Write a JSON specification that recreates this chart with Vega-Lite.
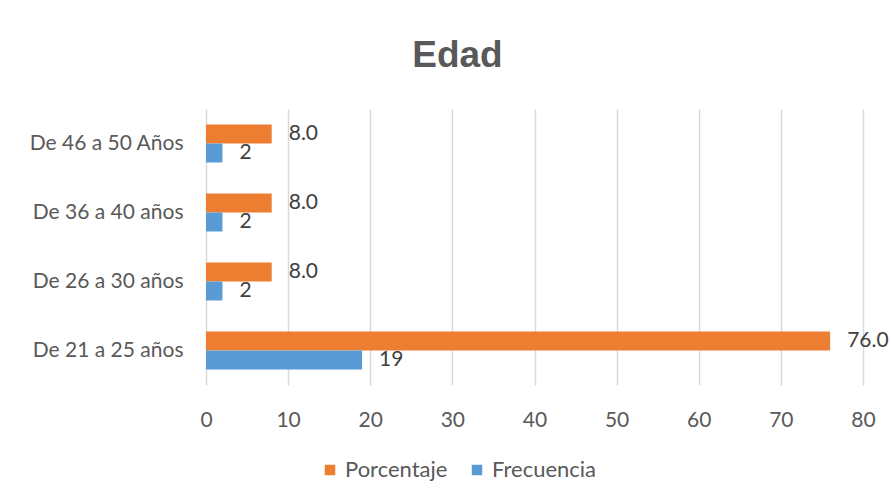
{
  "$schema": "https://vega.github.io/schema/vega-lite/v6.json",
  "autosize": "none",
  "width": 657,
  "height": 276,
  "padding": {"left": 206, "top": 109, "right": 28, "bottom": 117},
  "background": "white",
  "config": {"view": {"stroke": null}},
  "title": {
    "text": "Edad",
    "font": "Liberation Sans",
    "fontSize": 37,
    "fontWeight": "bold",
    "color": "#595959",
    "anchor": "middle",
    "dx": -77,
    "baseline": "alphabetic",
    "offset": 5
  },
  "data": {
    "values": [
      {"edad": "De 46 a 50 Años", "serie": "Porcentaje", "valor": 8.0, "etiqueta": "8.0"},
      {"edad": "De 46 a 50 Años", "serie": "Frecuencia", "valor": 2, "etiqueta": "2"},
      {"edad": "De 36 a 40 años", "serie": "Porcentaje", "valor": 8.0, "etiqueta": "8.0"},
      {"edad": "De 36 a 40 años", "serie": "Frecuencia", "valor": 2, "etiqueta": "2"},
      {"edad": "De 26 a 30 años", "serie": "Porcentaje", "valor": 8.0, "etiqueta": "8.0"},
      {"edad": "De 26 a 30 años", "serie": "Frecuencia", "valor": 2, "etiqueta": "2"},
      {"edad": "De 21 a 25 años", "serie": "Porcentaje", "valor": 76.0, "etiqueta": "76.0"},
      {"edad": "De 21 a 25 años", "serie": "Frecuencia", "valor": 19, "etiqueta": "19"}
    ]
  },
  "encoding": {
    "y": {
      "field": "edad",
      "type": "nominal",
      "sort": ["De 46 a 50 Años", "De 36 a 40 años", "De 26 a 30 años", "De 21 a 25 años"],
      "scale": {"paddingInner": 0.45, "paddingOuter": 0.225},
      "axis": {
        "title": null,
        "domain": false,
        "ticks": false,
        "grid": false,
        "labelPadding": 23,
        "labelFont": "Lato",
        "labelFontSize": 21,
        "labelColor": "#595959"
      }
    },
    "yOffset": {
      "field": "serie",
      "type": "nominal",
      "sort": ["Porcentaje", "Frecuencia"]
    },
    "x": {
      "field": "valor",
      "type": "quantitative",
      "scale": {"domain": [0, 80], "nice": false},
      "axis": {
        "title": null,
        "domain": false,
        "ticks": false,
        "grid": true,
        "gridColor": "#D9D9D9",
        "gridWidth": 1.5,
        "values": [0, 10, 20, 30, 40, 50, 60, 70, 80],
        "labelFlush": false,
        "labelPadding": 24,
        "labelFont": "Lato",
        "labelFontSize": 21,
        "labelColor": "#595959"
      }
    }
  },
  "layer": [
    {
      "mark": {"type": "bar"},
      "encoding": {
        "color": {
          "field": "serie",
          "type": "nominal",
          "scale": {"domain": ["Porcentaje", "Frecuencia"], "range": ["#ED7D31", "#5B9BD5"]},
          "legend": {
            "title": null,
            "orient": "none",
            "direction": "horizontal",
            "legendX": 113,
            "legendY": 350,
            "symbolType": "square",
            "symbolSize": 110,
            "symbolStrokeWidth": 0,
            "labelFont": "Lato",
            "labelFontSize": 22,
            "labelColor": "#595959",
            "labelOffset": 4,
            "columnPadding": 18
          }
        }
      }
    },
    {
      "mark": {"type": "text", "align": "left", "baseline": "middle", "dx": 17, "font": "Lato", "fontSize": 21, "color": "#404040"},
      "encoding": {
        "text": {"field": "etiqueta", "type": "nominal"}
      }
    }
  ]
}
